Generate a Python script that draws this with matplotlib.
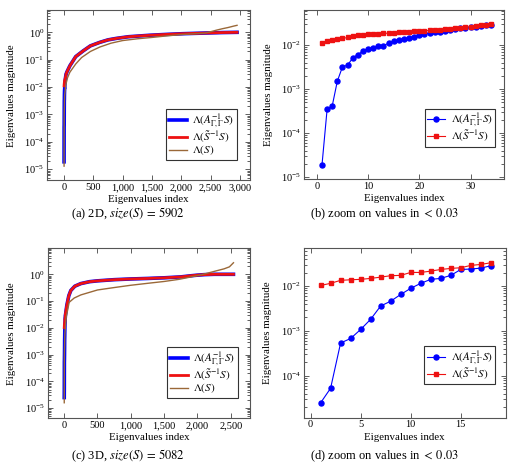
import numpy as np
import matplotlib.pyplot as plt
from matplotlib.ticker import LogLocator, FuncFormatter, NullFormatter, FixedLocator

plt.rcParams['font.family'] = ['Liberation Serif', 'DejaVu Serif']
plt.rcParams['mathtext.fontset'] = 'stix'

BLUE = '#0000ff'
RED = '#ee1111'
BROWN = '#9a6838'

LBL_A = r'$\Lambda(A_{\Gamma,\Gamma}^{-1}S)$'
LBL_S = r'$\Lambda(\tilde{S}^{-1}S)$'
LBL_B = r'$\Lambda(S)$'

# ---- zoom panels: first eigenvalues ----
b_blue = [1.87e-5, 3.45e-4, 4.15e-4, 1.52e-3, 3.2e-3, 3.5e-3, 5.1e-3, 6.1e-3, 7.3e-3,
          8.1e-3, 8.4e-3, 9.7e-3, 9.7e-3, 1.11e-2, 1.23e-2, 1.28e-2, 1.37e-2, 1.44e-2,
          1.55e-2, 1.69e-2, 1.81e-2, 1.87e-2, 1.94e-2, 2.01e-2, 2.12e-2, 2.23e-2,
          2.31e-2, 2.39e-2, 2.48e-2, 2.57e-2, 2.65e-2, 2.75e-2, 2.85e-2, 2.93e-2]
b_red = [1.11e-2, 1.23e-2, 1.28e-2, 1.35e-2, 1.42e-2, 1.49e-2, 1.57e-2, 1.66e-2, 1.72e-2,
         1.75e-2, 1.78e-2, 1.81e-2, 1.84e-2, 1.87e-2, 1.91e-2, 1.94e-2, 1.97e-2, 2.01e-2,
         2.04e-2, 2.08e-2, 2.12e-2, 2.15e-2, 2.19e-2, 2.23e-2, 2.27e-2, 2.31e-2,
         2.39e-2, 2.43e-2, 2.52e-2, 2.61e-2, 2.70e-2, 2.80e-2, 2.90e-2, 2.95e-2]
b_idx = list(range(1, len(b_blue) + 1))

d_blue = [2.5e-5, 5.3e-5, 5.4e-4, 6.8e-4, 1.08e-3, 1.82e-3, 3.6e-3, 4.6e-3, 6.5e-3,
          8.9e-3, 1.15e-2, 1.41e-2, 1.48e-2, 1.73e-2, 2.34e-2, 2.39e-2, 2.51e-2, 2.83e-2]
d_red = [1.03e-2, 1.15e-2, 1.34e-2, 1.38e-2, 1.41e-2, 1.48e-2, 1.58e-2, 1.70e-2, 1.73e-2,
         2.01e-2, 2.01e-2, 2.15e-2, 2.34e-2, 2.47e-2, 2.56e-2, 2.88e-2, 3.03e-2, 3.3e-2]
d_idx = list(range(1, len(d_blue) + 1))

# ---- full spectra (2D) ----
a_tail_idx = [50, 100, 200, 327, 450, 610, 750, 893, 1100, 1458, 1750, 2024, 2400, 2700, 2951]
a_red_tail = [0.036, 0.06, 0.13, 0.21, 0.32, 0.43, 0.53, 0.6, 0.69, 0.78, 0.84, 0.89, 0.94, 0.98, 1.0]
a_blue_tail = [0.036, 0.06, 0.13, 0.21, 0.32, 0.43, 0.53, 0.6, 0.69, 0.78, 0.84, 0.89, 0.94, 0.98, 1.0]
a_brown_idx = [1, 3, 10, 30, 60, 100, 200, 300, 450, 610, 800, 1000, 1250, 1500, 1750,
               2000, 2200, 2400, 2500, 2600, 2700, 2800, 2900, 2951]
a_brown = [1.3e-5, 1e-3, 5e-3, 1.2e-2, 2.2e-2, 3.5e-2, 7e-2, 0.12, 0.2, 0.29, 0.4, 0.5,
           0.58, 0.65, 0.74, 0.83, 0.88, 0.93, 1.05, 1.2, 1.35, 1.5, 1.7, 1.8]

# ---- full spectra (3D) ----
c_tail_idx = [40, 70, 100, 160, 250, 380, 500, 750, 1000, 1250, 1500, 1750, 1900, 2000,
              2100, 2250, 2400, 2541]
c_red_tail = [0.07, 0.16, 0.25, 0.36, 0.45, 0.53, 0.57, 0.63, 0.67, 0.7, 0.74, 0.8, 0.88,
              0.93, 0.97, 1.0, 1.0, 1.0]
c_blue_tail = [0.07, 0.16, 0.25, 0.36, 0.45, 0.53, 0.57, 0.63, 0.67, 0.7, 0.74, 0.8, 0.88,
               0.93, 0.97, 1.0, 1.0, 1.0]
c_brown_idx = [1, 3, 10, 30, 75, 150, 250, 500, 750, 1000, 1250, 1500, 1725, 1850, 2025,
               2150, 2275, 2400, 2480, 2541]
c_brown = [1.6e-5, 1e-3, 6e-3, 2.5e-2, 0.09, 0.13, 0.17, 0.26, 0.32, 0.39, 0.46, 0.54,
           0.65, 0.75, 0.92, 1.1, 1.33, 1.6, 1.9, 2.7]


def style(ax, xlim, ylim, xticks, yticks):
    ax.set_yscale('log')
    ax.set_xlim(*xlim)
    ax.set_ylim(*ylim)
    ax.xaxis.set_major_locator(FixedLocator(xticks))
    ax.xaxis.set_major_formatter(FuncFormatter(lambda v, p: f"{v:,.0f}"))
    ax.yaxis.set_major_locator(FixedLocator(yticks))
    ax.yaxis.set_minor_locator(LogLocator(base=10, subs=np.arange(2, 10), numticks=20))
    ax.yaxis.set_minor_formatter(NullFormatter())
    ax.tick_params(which='both', direction='in', top=True, right=True,
                   labelsize=7.5, color='#444444', width=0.6, pad=2)
    ax.tick_params(which='major', length=3.5)
    ax.tick_params(which='minor', length=2)
    for s in ax.spines.values():
        s.set_color('#555555')
        s.set_linewidth(0.8)
    ax.set_xlabel('Eigenvalues index', fontsize=7.8, labelpad=2.5)
    ax.set_ylabel('Eigenvalues magnitude', fontsize=7.8, labelpad=6)


def legend(ax, anchor):
    leg = ax.legend(loc='lower right', bbox_to_anchor=anchor, fontsize=8, frameon=True,
                    fancybox=False, framealpha=1, edgecolor='#333333',
                    handlelength=1.6, borderpad=0.25, labelspacing=-0.1, handletextpad=0.5,
                    borderaxespad=0)
    leg.get_frame().set_linewidth(0.8)


fig = plt.figure(figsize=(5.11, 4.73), dpi=100)

# (a)
ax = fig.add_axes([0.092, 0.619, 0.397, 0.359])
ax.plot(b_idx + a_tail_idx, b_blue + a_blue_tail, color=BLUE, lw=2.6, label=LBL_A)
ax.plot(b_idx + a_tail_idx, b_red + a_red_tail, color=RED, lw=2.0, label=LBL_S)
ax.plot(a_brown_idx, a_brown, color=BROWN, lw=1.0, label=LBL_B)
style(ax, (-290, 3170), (10 ** -5.4, 10 ** 0.8), [0, 500, 1000, 1500, 2000, 2500, 3000],
      [1e-5, 1e-4, 1e-3, 1e-2, 1e-1, 1e0])
legend(ax, (0.936, 0.118))

# (b)
ax = fig.add_axes([0.595, 0.622, 0.391, 0.357])
ax.plot(b_idx, b_blue, color=BLUE, lw=0.8, marker='o', ms=3.6, label=LBL_A)
ax.plot(b_idx, b_red, color=RED, lw=0.8, marker='s', ms=3.4, label=LBL_S)
style(ax, (-2.5, 36.5), (10 ** -5.04, 10 ** -1.2), [0, 10, 20, 30],
      [1e-5, 1e-4, 1e-3, 1e-2])
legend(ax, (0.957, 0.19))

# (c)
ax = fig.add_axes([0.093, 0.116, 0.397, 0.359])
ax.plot(d_idx + c_tail_idx, d_blue + c_blue_tail, color=BLUE, lw=2.6, label=LBL_A)
ax.plot(d_idx + c_tail_idx, d_red + c_red_tail, color=RED, lw=2.0, label=LBL_S)
ax.plot(c_brown_idx, c_brown, color=BROWN, lw=1.0, label=LBL_B)
style(ax, (-250, 2795), (10 ** -5.37, 10 ** 0.97), [0, 500, 1000, 1500, 2000, 2500],
      [1e-5, 1e-4, 1e-3, 1e-2, 1e-1, 1e0])
legend(ax, (0.939, 0.118))

# (d)
ax = fig.add_axes([0.594, 0.117, 0.396, 0.358])
ax.plot(d_idx, d_blue, color=BLUE, lw=0.8, marker='o', ms=3.6, label=LBL_A)
ax.plot(d_idx, d_red, color=RED, lw=0.8, marker='s', ms=3.4, label=LBL_S)
style(ax, (-0.7, 19.5), (10 ** -4.93, 10 ** -1.16), [0, 5, 10, 15],
      [1e-4, 1e-3, 1e-2])
legend(ax, (0.947, 0.197))

fig.text(128 / 511, 1 - 214 / 473, r'(a) 2D, $size(S)\,=\,5902$', ha='center', va='center', fontsize=9)
fig.text(384 / 511, 1 - 214 / 473, r'(b) zoom on values in $<\,0.03$', ha='center', va='center', fontsize=9)
fig.text(128 / 511, 1 - 456 / 473, r'(c) 3D, $size(S)\,=\,5082$', ha='center', va='center', fontsize=9)
fig.text(384 / 511, 1 - 456 / 473, r'(d) zoom on values in $<\,0.03$', ha='center', va='center', fontsize=9)

fig.savefig('out.png', dpi=100)
